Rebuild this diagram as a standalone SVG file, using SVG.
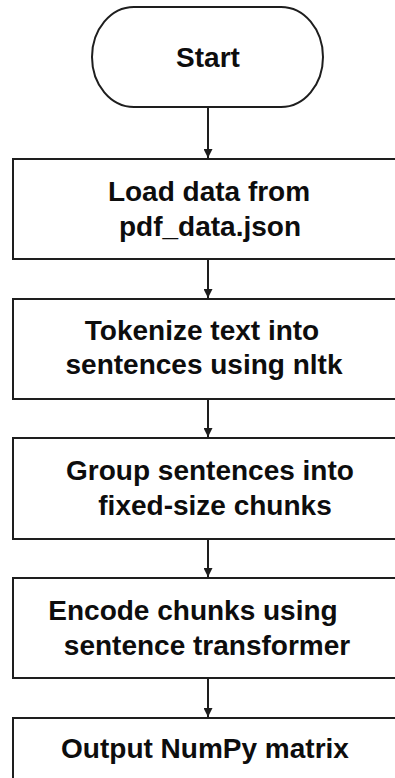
<svg xmlns="http://www.w3.org/2000/svg" width="395" height="778" viewBox="0 0 395 778">
  <style>
    .shape { fill: #ffffff; stroke: #1e1e1e; stroke-width: 2; }
    .label { font-family: "Liberation Sans", Arial, sans-serif; font-weight: bold; font-size: 28px; fill: #0d0d0d; text-anchor: middle; }
    .wire { stroke: #1e1e1e; stroke-width: 2; fill: none; }
  </style>
  <defs>
    <marker id="arrow" viewBox="0 0 10 10" refX="10" refY="5" markerWidth="9" markerHeight="9" markerUnits="userSpaceOnUse" orient="auto">
      <path d="M0,0 L10,5 L0,10 Z" fill="#1e1e1e"/>
    </marker>
  </defs>
  <rect width="395" height="778" fill="#ffffff"/>

  <!-- vertical flow arrows between steps -->
  <g id="connectors">
    <line class="wire" x1="208" y1="107" x2="208" y2="158" marker-end="url(#arrow)"/>
    <line class="wire" x1="208" y1="259" x2="208" y2="298" marker-end="url(#arrow)"/>
    <line class="wire" x1="208" y1="399" x2="208" y2="437" marker-end="url(#arrow)"/>
    <line class="wire" x1="208" y1="539" x2="208" y2="577" marker-end="url(#arrow)"/>
    <line class="wire" x1="208" y1="678" x2="208" y2="717" marker-end="url(#arrow)"/>
  </g>

  <g id="start">
    <rect class="shape" x="92" y="7" width="231" height="100" rx="42" ry="50"/>
    <text class="label" x="208" y="67">Start</text>
  </g>

  <g id="load">
    <rect class="shape" x="13" y="159" width="392" height="100"/>
    <text class="label" x="209" y="201">Load data from</text>
    <text class="label" x="210" y="236">pdf_data.json</text>
  </g>

  <g id="tokenize">
    <rect class="shape" x="13" y="299" width="392" height="100"/>
    <text class="label" x="202" y="340">Tokenize text into</text>
    <text class="label" x="204" y="374">sentences using nltk</text>
  </g>

  <g id="group">
    <rect class="shape" x="13" y="438" width="392" height="101"/>
    <text class="label" x="210" y="480">Group sentences into</text>
    <text class="label" x="215" y="515">fixed-size chunks</text>
  </g>

  <g id="encode">
    <rect class="shape" x="13" y="578" width="392" height="100"/>
    <text class="label" x="193" y="620">Encode chunks using</text>
    <text class="label" x="207" y="655">sentence transformer</text>
  </g>

  <g id="output">
    <rect class="shape" x="13" y="718" width="392" height="100"/>
    <text class="label" x="205" y="758">Output NumPy matrix</text>
  </g>
</svg>
